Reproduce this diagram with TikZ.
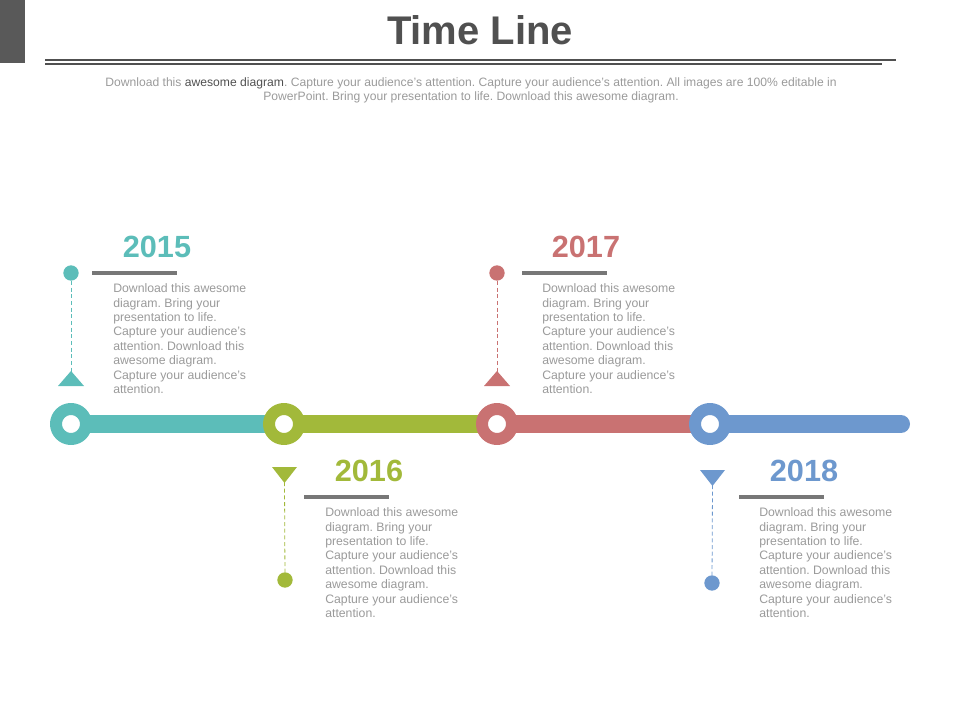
\documentclass[tikz,border=0pt]{standalone}
\usepackage{fontspec}
\setmainfont{Liberation Sans}
\frenchspacing
\definecolor{tealc}{HTML}{5CBDB9}
\definecolor{greenc}{HTML}{A2B93A}
\definecolor{redc}{HTML}{C97272}
\definecolor{bluec}{HTML}{6D98CE}
\definecolor{darkg}{HTML}{505050}
\definecolor{txtg}{HTML}{9A9A9A}
\definecolor{barg}{HTML}{777777}
\begin{document}
\begin{tikzpicture}[x=0.75pt, y=-0.75pt, line join=round,
	year/.style={inner sep=0pt, font=\fontsize{23}{23}\selectfont\bfseries},
	body/.style={anchor=north west, inner sep=0pt, align=left, text=txtg, font=\fontsize{9.2}{10.8}\selectfont},
	ring/.style={circle, draw=#1, line width=9pt, fill=white, minimum size=22.5pt, inner sep=0pt},
	dot/.style={circle, fill=#1, minimum size=11.5pt, inner sep=0pt},
	track/.style={line width=13.5pt, line cap=butt},
	rule/.style={barg, line width=3pt, line cap=butt},
	link/.style={densely dashed, line width=0.6pt}]
	\useasboundingbox (0,0) rectangle (960,720);
	% header
	\fill[darkg!95] (0,0) rectangle (25,63);
	\node[text=darkg, font=\fontsize{30}{30}\selectfont\bfseries] (title) at (480,30) {Time Line};
	\draw[darkg, line width=1.8pt] (45,60)--(896,60);
	\draw[darkg, line width=0.8pt] (45,64)--(882,64);
	\node[text=txtg, align=center, font=\fontsize{9.1}{10.5}\selectfont] (sub) at (471,90)
		{Download this \textcolor{darkg}{awesome diagram}. Capture your audience’s attention. Capture your audience’s attention. All images are 100\% editable in\\
		PowerPoint. Bring your presentation to life. Download this awesome diagram.};
	
	% time line
	\coordinate (c1) at (71,424);
	\coordinate (c2) at (284,424);
	\coordinate (c3) at (497,424);
	\coordinate (c4) at (710,424);
	\coordinate (tend) at (901,424);
	\draw[track, tealc] (c1)--(c2);
	\draw[track, greenc] (c2)--(c3);
	\draw[track, redc] (c3)--(c4);
	\draw[track, bluec, line cap=round] (c4)--(tend);
	\node[ring=tealc] (r1) at (c1) {};
	\node[ring=greenc] (r2) at (c2) {};
	\node[ring=redc] (r3) at (c3) {};
	\node[ring=bluec] (r4) at (c4) {};
	
	% 2015
	\node[dot=tealc] (d1) at (71,273) {};
	\fill[tealc] (71,371)--(58,386)--(84,386)--cycle;
	\coordinate (t1) at (71,372);
	\draw[link, tealc] (d1)--(t1);
	\node[year, text=tealc] (y1) at (157,247) {2015};
	\draw[rule] (92,273)--(177,273);
	\node[body] (b1) at (113,283.5) {Download this awesome\\diagram. Bring your\\presentation to life.\\Capture your audience’s\\attention. Download this\\awesome diagram.\\Capture your audience’s\\attention.};
	
	% 2016
	\fill[greenc] (272,467)--(297,467)--(284.5,483)--cycle;
	\coordinate (t2) at (284.5,482);
	\node[dot=greenc] (d2) at (285,580) {};
	\draw[link, greenc] (t2)--(d2);
	\node[year, text=greenc] (y2) at (369,471) {2016};
	\draw[rule] (304,497)--(389,497);
	\node[body] (b2) at (325,507.5) {Download this awesome\\diagram. Bring your\\presentation to life.\\Capture your audience’s\\attention. Download this\\awesome diagram.\\Capture your audience’s\\attention.};
	
	% 2017
	\node[dot=redc] (d3) at (497,273) {};
	\fill[redc] (497,371)--(484,386)--(510,386)--cycle;
	\coordinate (t3) at (497,372);
	\draw[link, redc] (d3)--(t3);
	\node[year, text=redc] (y3) at (586,247) {2017};
	\draw[rule] (522,273)--(607,273);
	\node[body] (b3) at (542,283.5) {Download this awesome\\diagram. Bring your\\presentation to life.\\Capture your audience’s\\attention. Download this\\awesome diagram.\\Capture your audience’s\\attention.};
	
	% 2018
	\fill[bluec] (700,470)--(725,470)--(712.5,486)--cycle;
	\coordinate (t4) at (712.5,485);
	\node[dot=bluec] (d4) at (712,583) {};
	\draw[link, bluec] (t4)--(d4);
	\node[year, text=bluec] (y4) at (804,471) {2018};
	\draw[rule] (739,497)--(824,497);
	\node[body] (b4) at (759,507.5) {Download this awesome\\diagram. Bring your\\presentation to life.\\Capture your audience’s\\attention. Download this\\awesome diagram.\\Capture your audience’s\\attention.};
\end{tikzpicture}
\end{document}
